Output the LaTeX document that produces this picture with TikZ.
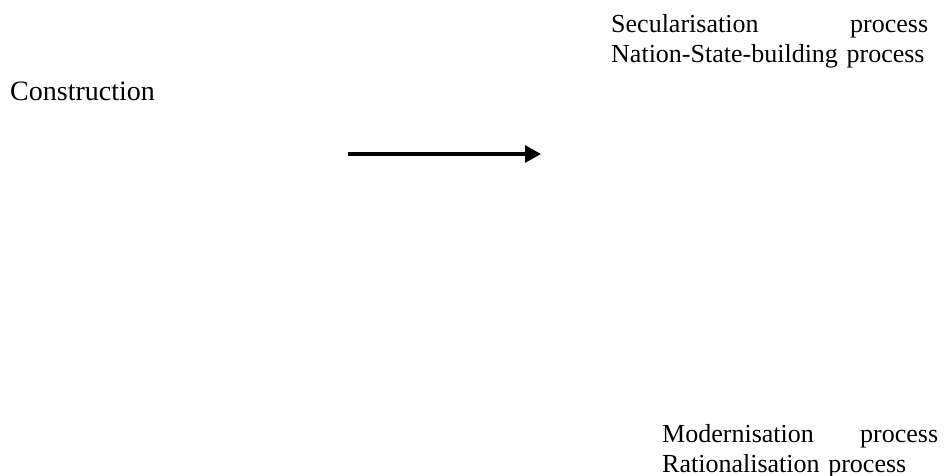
\documentclass[tikz,border=0pt]{standalone}
\usepackage{fontspec}
\setmainfont{Liberation Serif}
\usepackage{tikz}
\usetikzlibrary{arrows.meta,positioning}
\tikzset{
  plaintext/.style={inner sep=0pt, anchor=north west, align=left,
                    font=\fontsize{26}{30}\selectfont},
  flow/.style={-{Triangle[length=16pt, width=17pt]}, line width=3.2pt, draw=black},
}

\begin{document}
\begin{tikzpicture}[x=1pt, y=-1pt]
\useasboundingbox (0,0) rectangle (947,476);
\node[plaintext, text width=317pt] (secular) at (611,14)
  {Secularisation\hfill process\\
   Nation-State-building process};
\node[plaintext, anchor=base west, font=\fontsize{28}{30}\selectfont]
  (construction) at (10,101) {Construction};
\node[plaintext, text width=276pt] (modern) at (662,424)
  {Modernisation\hfill process\\
   Rationalisation process};

\coordinate (arrowstart) at (348,154);
\coordinate (arrowend) at (541,154);
\draw[flow] (arrowstart) -- (arrowend);
\end{tikzpicture}
\end{document}
